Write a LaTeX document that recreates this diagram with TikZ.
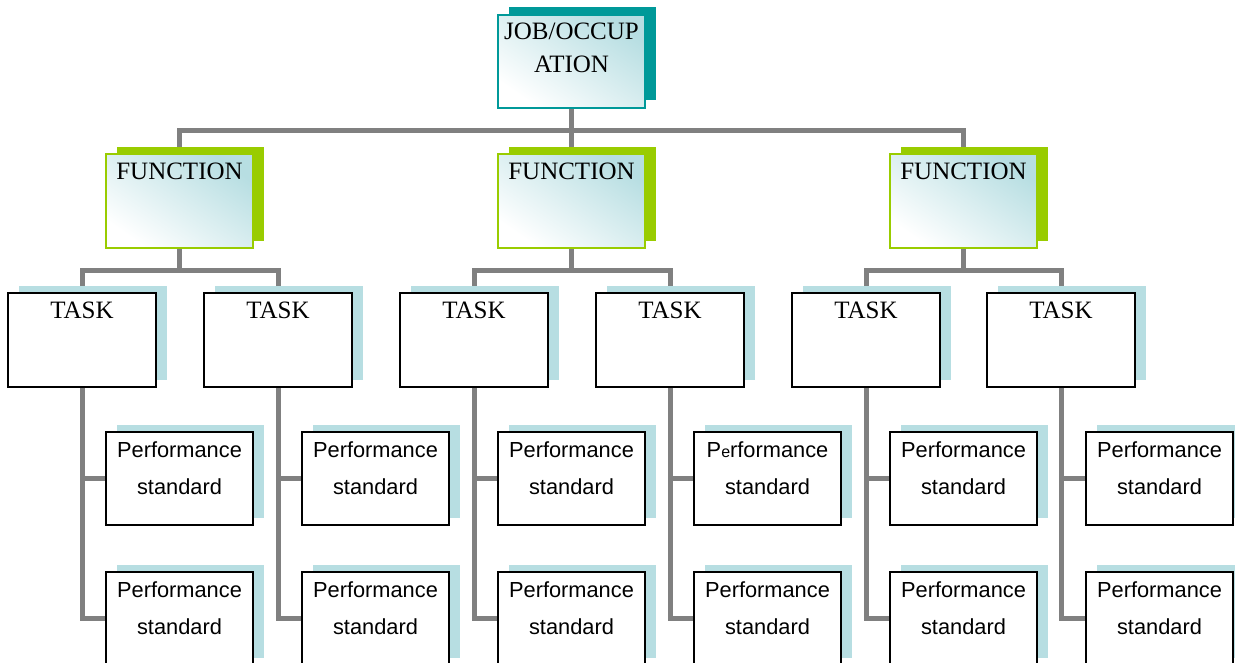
\documentclass[tikz,border=0pt]{standalone}
\usepackage{fontspec}
\setmainfont{Liberation Serif}
\setsansfont{Liberation Sans}
\usetikzlibrary{shadows}

\definecolor{tealshade}{RGB}{0,153,153}
\definecolor{leafgreen}{RGB}{153,204,0}
\definecolor{paleblue}{RGB}{183,222,226}
\definecolor{wiregray}{RGB}{128,128,128}

\pgfdeclarelayer{back}
\pgfsetlayers{back,main}

\tikzset{
  card/.style={rectangle, inner sep=0pt, outer sep=0pt, anchor=north west,
    align=center, text width=147pt, minimum width=147pt,
    text height=25pt, text depth=69pt},
  glow/.style={top color=paleblue, bottom color=white, shading angle=-35},
  serifface/.style={font=\fontsize{25}{33}\selectfont},
  jobcard/.style={card, glow, serifface, draw=tealshade, line width=2pt,
    text height=24pt, text depth=69pt,
    general shadow={fill=tealshade, shadow xshift=11pt, shadow yshift=8pt}},
  funccard/.style={card, glow, serifface, draw=leafgreen, line width=2pt,
    general shadow={fill=leafgreen, shadow xshift=11pt, shadow yshift=7pt}},
  taskcard/.style={card, serifface, fill=white, draw=black, line width=1.5pt,
    text width=148pt, minimum width=148pt,
    general shadow={fill=paleblue, shadow xshift=11pt, shadow yshift=7pt}},
  perfcard/.style={card, fill=white, draw=black, line width=1.5pt,
    text depth=68pt,
    font=\sffamily\fontsize{21.8}{37}\selectfont,
    general shadow={fill=paleblue, shadow xshift=11pt, shadow yshift=7pt}},
  wire/.style={draw=wiregray, line width=5pt, line join=miter}
}

\begin{document}
\begin{tikzpicture}[x=1pt, y=-1pt]
  \useasboundingbox (0,0) rectangle (1235,662);

  % top of the hierarchy
  \node[jobcard] (job) at (498,15) {JOB/OCCUP\\ATION};

  % functions
  \node[funccard] (f1) at (106,154) {FUNCTION};
  \node[funccard] (f2) at (498,154) {FUNCTION};
  \node[funccard] (f3) at (890,154) {FUNCTION};

  % tasks
  \foreach \i/\x in {1/8, 2/204, 3/400, 4/596, 5/792, 6/987}
    \node[taskcard] (t\i) at (\x,293) {TASK};

  % performance standards, two under each task
  \foreach \i/\x in {1/106, 2/302, 3/498, 5/890, 6/1086}
    \node[perfcard] (p\i a) at (\x,432) {Performance\\standard};
  \node[perfcard] (p4a) at (694,432)
    {P{\fontsize{16}{16}\selectfont e}rformance\\standard};
  \foreach \i/\x in {1/106, 2/302, 3/498, 4/694, 5/890, 6/1086}
    \node[perfcard] (p\i b) at (\x,572) {Performance\\standard};

  \begin{pgfonlayer}{back}
    % job to functions
    \draw[wire] (job.south) -- ++(0,22) coordinate (jbus) -| (f1.north);
    \draw[wire] (jbus) -| (f3.north);
    \draw[wire] (jbus) -- (f2.north);

    % functions to tasks
    \foreach \f/\l/\r in {1/1/2, 2/3/4, 3/5/6} {
      \draw[wire] (f\f.south) -- ++(0,22) coordinate (fbus) -| (t\l.north);
      \draw[wire] (fbus) -| (t\r.north);
    }

    % tasks to performance standards
    \foreach \i in {1,...,6} {
      \draw[wire] (t\i.south) |- (p\i b.west);
      \draw[wire] (t\i.south |- p\i a.west) -- (p\i a.west);
    }
  \end{pgfonlayer}
\end{tikzpicture}
\end{document}
